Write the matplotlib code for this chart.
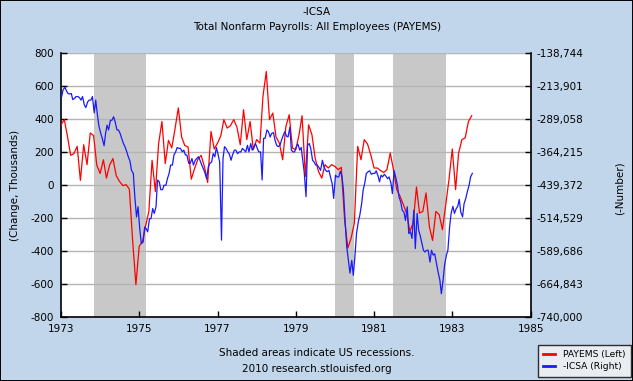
import matplotlib
matplotlib.use("Agg")
import matplotlib.pyplot as plt
import matplotlib.dates as mdates
from matplotlib.ticker import FuncFormatter, FixedLocator
import numpy as np
import pandas as pd
from matplotlib.patches import Rectangle

plt.rcParams['axes.unicode_minus'] = False
plt.rcParams['font.family'] = ['DejaVu Sans']

# ---------------- data ----------------
# PAYEMS: monthly change, thousands (Jan 1973 .. Jul 1983)
payems_1973 = [365, 396, 300, 180, 190, 234, 28, 244, 123, 315, 300, 120]
payems_1974 = [70, 153, 42, 123, 160, 56, 22, -4, 2, -25, -340, -604]
payems_1975 = [-372, -340, -250, -160, 150, -40, 250, 385, 130, 270, 225, 340]
payems_1976 = [467, 290, 240, 230, 35, 100, 155, 180, 110, 15, 325, 218]
payems_1977 = [254, 299, 396, 345, 359, 396, 351, 244, 456, 275, 385, 214]
payems_1978 = [275, 254, 537, 688, 396, 436, 291, 254, 153, 355, 426, 224]
payems_1979 = [214, 305, 420, 52, 365, 305, 163, 82, 42, 123, 103, 123]
payems_1980 = [113, 93, 107, -210, -382, -321, -230, 234, 153, 275, 248, 184]
payems_1981 = [103, 103, 88, 76, 93, 194, 93, -28, -69, -119, -170, -281]
payems_1982 = [-230, -12, -170, -160, -48, -251, -336, -160, -180, -271, -119, 32]
payems_1983 = [218, -28, 194, 275, 285, 385, 420]

# ICSA: initial claims, thousands, two readings per month (7th and 21st)
icsa_1973 = [238, 222, 217, 225, 231, 232, 231, 245, 242, 238, 238, 240,
             246, 238, 257, 263, 250, 246, 246, 238, 275, 246, 280, 305]
icsa_1974 = [322, 333, 350, 322, 303, 314, 292, 292, 284, 295, 314, 314,
             322, 333, 345, 352, 364, 375, 385, 406, 413, 466, 512, 489]
icsa_1975 = [542, 573, 569, 535, 539, 546, 516, 516, 493, 504, 489, 428,
             432, 450, 450, 440, 440, 425, 413, 394, 394, 371, 364, 354]
icsa_1976 = [356, 356, 364, 360, 371, 371, 390, 390, 379, 394, 383, 379,
             375, 383, 394, 402, 413, 425, 398, 390, 387, 368, 375, 354]
icsa_1977 = [371, 387, 565, 380, 352, 356, 364, 369, 383, 371, 360, 360,
             368, 364, 364, 356, 360, 364, 349, 364, 345, 360, 352, 345]
icsa_1978 = [356, 364, 364, 428, 333, 333, 314, 318, 330, 322, 320, 337,
             349, 352, 349, 337, 326, 318, 328, 330, 308, 360, 364, 364]
icsa_1979 = [352, 346, 360, 354, 383, 410, 466, 349, 345, 356, 383, 387,
             394, 394, 400, 406, 383, 398, 406, 409, 406, 421, 436, 470]
icsa_1980 = [417, 421, 421, 408, 419, 451, 527, 580, 611, 640, 611, 645,
             600, 550, 523, 508, 482, 451, 434, 413, 409, 407, 415, 413]
icsa_1981 = [413, 407, 419, 432, 417, 421, 415, 419, 425, 421, 434, 459,
             407, 421, 440, 466, 478, 497, 501, 520, 489, 550, 546, 561]
icsa_1982 = [497, 584, 504, 542, 554, 569, 588, 592, 588, 588, 615, 588,
             599, 596, 618, 637, 656, 687, 656, 622, 599, 588, 535, 504]
icsa_1983 = [488, 504, 493, 488, 472, 501, 512, 482, 470, 455, 440, 421, 413]

recessions = [("1973-11-01", "1975-03-01"),
              ("1980-01-01", "1980-07-01"),
              ("1981-07-01", "1982-11-01")]

left_ticks = [-800, -600, -400, -200, 0, 200, 400, 600, 800]
right_min, right_max = -740000, -138744
year_ticks = [1973, 1975, 1977, 1979, 1981, 1983, 1985]

# ---------------- build series ----------------
payems = (payems_1973 + payems_1974 + payems_1975 + payems_1976 + payems_1977 +
          payems_1978 + payems_1979 + payems_1980 + payems_1981 + payems_1982 +
          payems_1983)
p_dates = pd.date_range("1973-01-01", periods=len(payems), freq="MS")

icsa = (icsa_1973 + icsa_1974 + icsa_1975 + icsa_1976 + icsa_1977 + icsa_1978 +
        icsa_1979 + icsa_1980 + icsa_1981 + icsa_1982 + icsa_1983)
i_dates = []
for h in range(len(icsa)):
    y = 1973 + h // 24
    m = (h % 24) // 2 + 1
    d = 7 if h % 2 == 0 else 21
    i_dates.append(pd.Timestamp(year=y, month=m, day=d))
icsa_neg = -np.array(icsa) * 1000.0

# ---------------- figure ----------------
BG = "#C2D6EB"
W, H = 633, 381
fig = plt.figure(figsize=(W / 100, H / 100), dpi=100, facecolor=BG)
fig.patches.append(Rectangle((0, 0), 1, 1, transform=fig.transFigure,
                             fill=False, edgecolor="black", linewidth=1.4))

x0, x1, ytop, ybot = 61, 530.6, 53, 317
ax = fig.add_axes([x0 / W, 1 - ybot / H, (x1 - x0) / W, (ybot - ytop) / H])
ax.set_facecolor("white")

for s, e in recessions:
    ax.axvspan(pd.Timestamp(s), pd.Timestamp(e), color="#C8C8C8", lw=0, zorder=1)

ax.plot(p_dates, payems, color="#FF0000", lw=0.9, zorder=3)
ax.set_ylim(-800, 800)
ax.set_xlim(pd.Timestamp("1973-01-01"), pd.Timestamp("1985-01-01"))
ax.yaxis.set_major_locator(FixedLocator(left_ticks))
ax.xaxis.set_major_locator(FixedLocator([mdates.date2num(pd.Timestamp(f"{y}-01-01")) for y in year_ticks]))
ax.xaxis.set_major_formatter(FuncFormatter(lambda v, p: mdates.num2date(v).strftime("%Y")))
ax.yaxis.grid(True, color="#B4B4B4", lw=1.0)
ax.tick_params(axis="y", direction="in", length=4, width=1, labelsize=7.5, pad=5, colors="black")
ax.tick_params(axis="x", direction="in", length=4, width=1, labelsize=7.5, pad=5)
for sp in ["top", "right"]:
    ax.spines[sp].set_visible(False)
for sp in ["left", "bottom"]:
    ax.spines[sp].set_linewidth(1.2)

ax2 = ax.twinx()
ax2.plot(i_dates, icsa_neg, color="#1A1AFF", lw=0.9, zorder=3)
ax2.set_ylim(right_min, right_max)
ax2.yaxis.set_major_locator(FixedLocator(np.linspace(right_min, right_max, 9)))
ax2.yaxis.set_major_formatter(FuncFormatter(lambda v, p: f"{v:,.0f}"))
ax2.tick_params(axis="y", direction="in", length=4, width=1, labelsize=7.5, pad=4)
for sp in ["top", "left", "bottom"]:
    ax2.spines[sp].set_visible(False)
ax2.spines["right"].set_linewidth(1.2)

# ---------------- texts ----------------
fs = 7.5
fig.text(317 / W, 1 - 12 / H, "-ICSA", ha="center", va="center", fontsize=fs)
fig.text(317 / W, 1 - 27 / H, "Total Nonfarm Payrolls: All Employees (PAYEMS)",
         ha="center", va="center", fontsize=fs)
fig.text(15 / W, 1 - 185 / H, "(Change, Thousands)", rotation=90,
         ha="center", va="center", fontsize=fs)
fig.text(620 / W, 1 - 188 / H, "(-Number)", rotation=90,
         ha="center", va="center", fontsize=fs)
fig.text(317 / W, 1 - 353 / H, "Shaded areas indicate US recessions.",
         ha="center", va="center", fontsize=fs)
fig.text(317 / W, 1 - 369 / H, "2010 research.stlouisfed.org",
         ha="center", va="center", fontsize=fs)

leg = fig.legend(ax.lines[:1] + ax2.lines[:1], ["PAYEMS (Left)", "-ICSA (Right)"],
                 loc="lower right", bbox_to_anchor=(630.5 / W, 4.5 / H),
                 fontsize=6.6, frameon=True, fancybox=False, handlelength=1.3,
                 handletextpad=0.9, borderpad=0.55, labelspacing=0.4,
                 borderaxespad=0)
leg.get_frame().set_edgecolor("black")
leg.get_frame().set_linewidth(1.0)
leg.get_frame().set_facecolor("#F4F4F4")
for l in leg.get_lines():
    l.set_linewidth(2.0)

fig.savefig("out.png", dpi=100, facecolor=BG)
